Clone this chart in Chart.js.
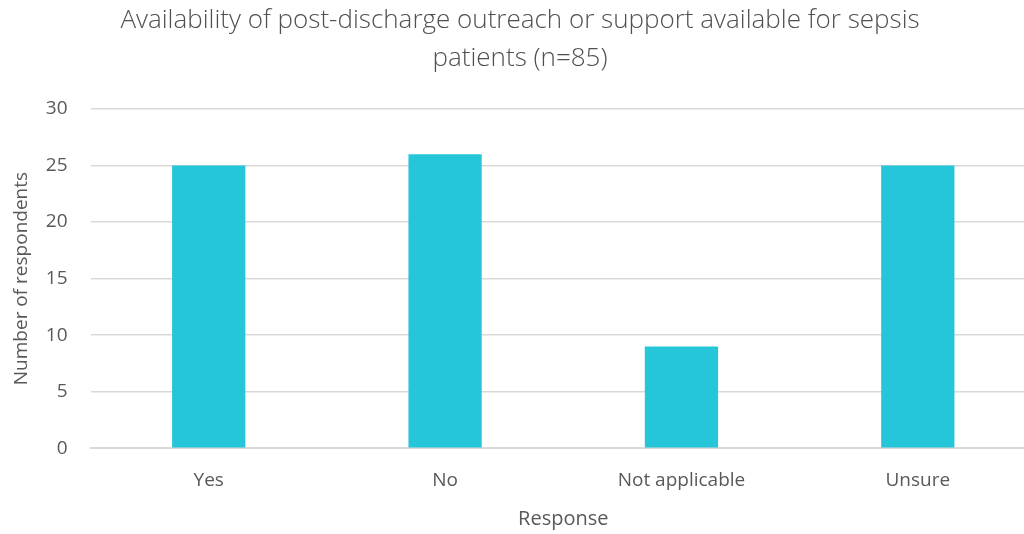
<!DOCTYPE html>
<html>
<head>
<meta charset="utf-8">
<script src="https://cdn.jsdelivr.net/npm/chart.js@4.4.0/dist/chart.umd.min.js"></script>
<style>
  html, body { margin: 0; padding: 0; background: #fff; overflow: hidden; }
  #wrap { width: 1036px; height: 534px; position: relative; }
</style>
</head>
<body>
<div id="wrap"><canvas id="responseChart"></canvas></div>
<script>
// --- Data ---
const categories = ['Yes', 'No', 'Not applicable', 'Unsure'];
const respondents = [25, 26, 9, 25];
const yTicks = [0, 5, 10, 15, 20, 25, 30];

const titleLines = ['Availability of post-discharge outreach or support available for sepsis', 'patients (n=85)'];
const textColor = '#595959';
const gridColor = '#d9d9d9';
const barColor = '#26c6da';
const fontFamily = "'Open Sans', sans-serif";

const ctx = document.getElementById('responseChart');

new Chart(ctx, {
    type: 'bar',
    data: {
        labels: categories,
        datasets: [{
            label: 'Number of respondents',
            data: respondents,
            backgroundColor: barColor,
            barPercentage: 0.31,
            categoryPercentage: 1
        }]
    },
    options: {
        responsive: true,
        maintainAspectRatio: false,
        animation: false,
        layout: { padding: { top: 0, left: 4, right: 0, bottom: 3 } },
        plugins: {
            legend: { display: false },
            tooltip: { enabled: false },
            title: {
                display: true,
                text: titleLines,
                color: '#505050',
                font: { family: fontFamily, size: 26, weight: 300, lineHeight: 1.48 },
                padding: { top: 1, bottom: 31 }
            }
        },
        scales: {
            x: {
                grid: { display: false, drawTicks: false },
                border: { color: gridColor, width: 2 },
                ticks: {
                    color: textColor,
                    font: { family: fontFamily, size: 19, weight: 400 },
                    padding: 21
                },
                title: {
                    display: true,
                    text: 'Response',
                    color: textColor,
                    font: { family: fontFamily, size: 20, weight: 400 },
                    padding: { top: -6, bottom: 0 }
                }
            },
            y: {
                min: 0,
                max: 30,
                afterBuildTicks: (axis) => { axis.ticks = yTicks.map(v => ({ value: v })); },
                grid: { color: gridColor, lineWidth: 1.5, drawTicks: false },
                border: { display: false },
                ticks: {
                    color: textColor,
                    font: { family: fontFamily, size: 19, weight: 400 },
                    padding: 23
                },
                title: {
                    display: true,
                    text: 'Number of respondents',
                    color: textColor,
                    font: { family: fontFamily, size: 19, weight: 400 },
                    padding: { top: 6, bottom: -10 }
                }
            }
        }
    }
});
</script>
</body>
</html>
